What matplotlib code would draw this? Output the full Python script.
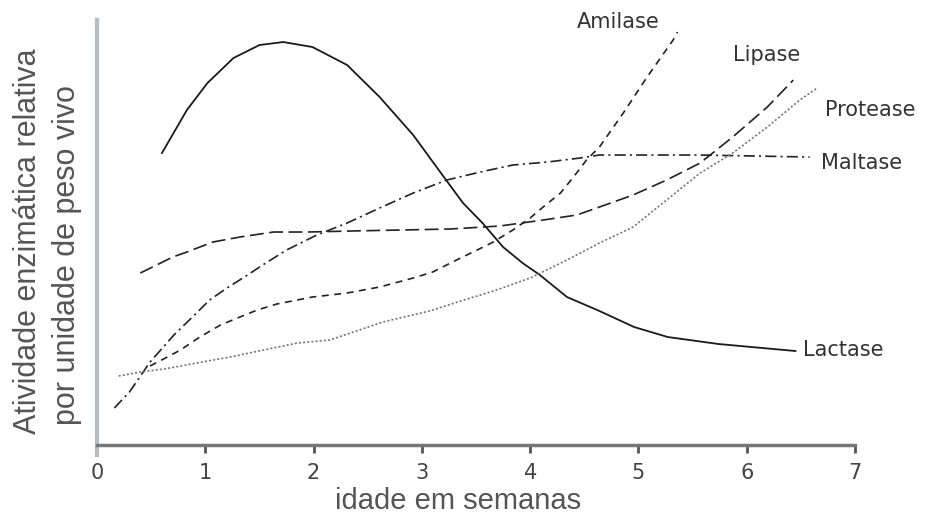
import matplotlib
matplotlib.use('Agg')
import matplotlib.pyplot as plt
from matplotlib import font_manager

# idade em semanas / atividade relativa (unidades arbitrarias)
lactase_x = [0.60, 0.83, 1.02, 1.26, 1.50, 1.72, 1.99, 2.31, 2.61, 2.92, 3.21, 3.38,
             3.56, 3.75, 3.93, 4.09, 4.34, 4.64, 4.96, 5.27, 5.74, 6.45]
lactase_y = [29.2, 33.5, 36.2, 38.7, 40.0, 40.3, 39.8, 38.0, 34.8, 31.0, 26.7, 24.2,
             22.2, 19.8, 18.2, 17.0, 14.8, 13.4, 11.8, 10.8, 10.1, 9.4]

maltase_x = [0.16, 0.30, 0.49, 0.71, 0.90, 1.04, 1.20, 1.39, 1.53, 1.75, 1.90, 2.03,
             2.31, 2.61, 2.92, 3.23, 3.54, 3.84, 4.16, 4.46, 4.64, 5.57, 6.58]
maltase_y = [3.7, 5.3, 8.3, 11.0, 13.0, 14.5, 15.7, 17.0, 18.0, 19.5, 20.3, 21.0,
             22.2, 23.7, 25.2, 26.5, 27.3, 28.0, 28.3, 28.7, 29.0, 29.0, 28.8]

lipase_x = [0.40, 0.55, 0.70, 0.83, 1.07, 1.32, 1.63, 1.94, 2.34, 2.80, 3.26, 3.72,
            4.12, 4.43, 4.64, 4.95, 5.26, 5.57, 5.87, 6.19, 6.43]
lipase_y = [17.2, 18.0, 18.8, 19.3, 20.3, 20.8, 21.3, 21.3, 21.4, 21.5, 21.6, 21.9,
            22.5, 23.0, 23.8, 25.0, 26.5, 28.2, 30.8, 33.8, 36.5]

amilase_x = [0.49, 0.65, 0.77, 0.95, 1.14, 1.32, 1.48, 1.66, 1.99, 2.31, 2.61, 2.92,
             3.10, 3.32, 3.51, 3.66, 3.84, 4.00, 4.12, 4.28, 4.40, 4.52, 4.64, 4.86,
             5.08, 5.32, 5.36]
amilase_y = [7.9, 8.8, 9.5, 10.8, 12.0, 12.8, 13.5, 14.1, 14.8, 15.2, 15.8, 16.7,
             17.3, 18.5, 19.5, 20.3, 21.5, 22.7, 23.8, 25.2, 26.8, 28.5, 29.8, 33.2,
             36.8, 40.5, 41.3]

protease_x = [0.20, 0.40, 0.62, 0.92, 1.23, 1.54, 1.85, 2.15, 2.64, 3.07, 3.39, 3.69,
              4.00, 4.34, 4.64, 4.95, 5.26, 5.57, 5.87, 6.19, 6.49, 6.65]
protease_y = [6.9, 7.3, 7.6, 8.2, 8.8, 9.5, 10.2, 10.5, 12.3, 13.4, 14.5, 15.5,
              16.7, 18.5, 20.2, 21.8, 24.5, 27.2, 29.2, 31.8, 34.5, 35.7]

xticks = [0, 1, 2, 3, 4, 5, 6, 7]

# fonte estreita tipo Arial Narrow se houver
try:
    font_manager.findfont('Liberation Sans Narrow', fallback_to_default=False)
    narrow = 'Liberation Sans Narrow'
    big = 27
except Exception:
    narrow = 'Liberation Sans'
    big = 22
label_font = 'DejaVu Sans'

plt.rcParams['lines.scale_dashes'] = False

fig = plt.figure(figsize=(9.26, 5.23), dpi=100)
ax = fig.add_axes([0.10475, 0.1300, 0.8186, 0.8317])

ax.plot(lactase_x, lactase_y, '-', color='#1a1a1a', lw=1.3)
ax.plot(maltase_x, maltase_y, color='#222222', lw=1.2, linestyle=(0, (8, 3, 1.5, 3)))
ax.plot(lipase_x, lipase_y, color='#222222', lw=1.2, linestyle=(0, (10, 4)))
ax.plot(amilase_x, amilase_y, color='#222222', lw=1.2, linestyle=(0, (5, 4)))
ax.plot(protease_x, protease_y, color='#777777', lw=1.2, linestyle=(0, (1.5, 1.5)))

lab = dict(fontsize=15, color='#333333', family=label_font, va='center', ha='left', clip_on=False)
ax.text(4.43, 42.3, 'Amilase', **lab)
ax.text(5.87, 39.0, 'Lipase', **lab)
ax.text(6.72, 33.5, 'Protease', **lab)
ax.text(6.69, 28.2, 'Maltase', **lab)
ax.text(6.52, 9.5, 'Lactase', **lab)

ax.set_xlim(0, 7)
ax.set_ylim(-1, 42.5)
ax.set_xticks(xticks)
ax.set_yticks([])
ax.tick_params(axis='x', direction='out', length=6, width=2, color='#555555', pad=7,
               labelsize=15, labelcolor='#444444')
for t in ax.get_xticklabels():
    t.set_fontfamily(narrow)

ax.spines['top'].set_visible(False)
ax.spines['right'].set_visible(False)
ax.spines['bottom'].set_position(('data', 0))
ax.spines['bottom'].set_color('#777777')
ax.spines['bottom'].set_linewidth(2.5)
ax.spines['left'].set_color('#b4bcc4')
ax.spines['left'].set_linewidth(3)

fig.text(458 / 926, 1 - 501 / 523, 'idade em semanas', family=narrow, fontsize=big - 1,
         color='#555555', ha='center', va='center')
fig.text(28 / 926, 1 - 241 / 523, 'Atividade enzimática relativa', family=narrow,
         fontsize=big, color='#555555', rotation=90, ha='center', va='center')
fig.text(67 / 926, 1 - 255 / 523, 'por unidade de peso vivo', family=narrow,
         fontsize=big, color='#555555', rotation=90, ha='center', va='center')

fig.savefig('out.png', dpi=100)
